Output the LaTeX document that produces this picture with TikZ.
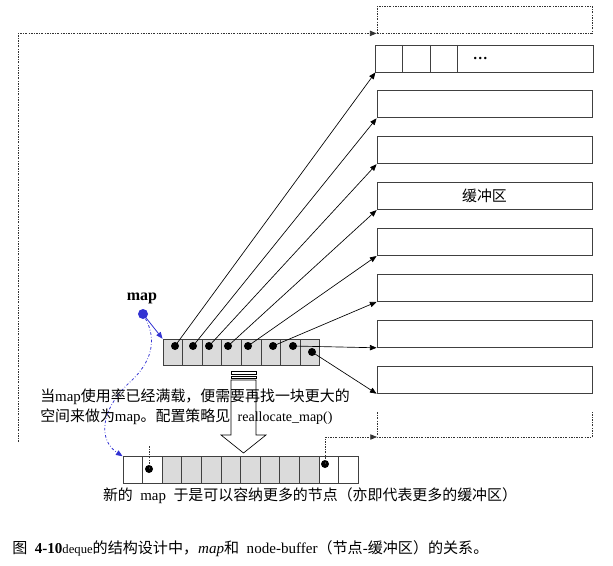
\documentclass[tikz,border=0pt]{standalone}
\usepackage{fontspec}
\setmainfont{Liberation Serif}
\newfontfamily\cjk{Noto Sans CJK SC}
\usepackage{tikz}
\usetikzlibrary{shapes,arrows.meta}
\newcommand{\zh}[1]{{\cjk #1}}
\definecolor{mapblue}{RGB}{51,51,210}
\tikzset{
  every picture/.style={font={\fontsize{11.2}{15}\selectfont}, >={Triangle[length=5pt,width=4pt]}},
  every node/.style={inner sep=0pt}}

\begin{document}
\begin{tikzpicture}[x=0.75pt, y=-0.75pt,
    buf/.style={
      draw=black!75, line width=0.6pt,
      minimum width=161.25pt,
      minimum height=20.25pt},
    cell/.style={draw=black!75, line width=0.6pt, minimum width=14.7pt, minimum height=20pt},
    full/.style={cell, fill=black!14},
    dot/.style={circle, fill=black, minimum size=6pt},
    ptr/.style={->, line width=0.5pt},
    dotline/.style={black!80, line width=0.6pt, dash pattern=on 1.5pt off 1pt on 0.5pt off 1pt},
    mapline/.style={->, mapblue, line width=0.6pt}]

    \useasboundingbox (0,0) rectangle (613,566);

    % buffers
    \node[buf, dotline] (b1) at (484.5,19.5) {};
    \node[buf, rectangle split, rectangle split horizontal, rectangle split parts=4] (b2) at (484.5,58.5)
    {
      \nodepart[text width=19.9pt]{one}
      \nodepart[text width=19.9pt]{two}
      \nodepart[text width=20.2pt]{three}
      \nodepart[text width=101.25pt]{four}\hspace*{11pt}\textbf{…}
    };
    \foreach \i in {3,4,6,7,8,9}
      \node[buf] (b\i) at (484.5,{58.5+45.9*(\i-2)}) {};
    \node[buf] (b5) at (484.5,{58.5+45.9*3}) {\zh{缓冲区}};
    \coordinate (b10) at (377,437);
    \draw[dotline] (b10) ++(0,-25) -- (b10) -- ++(215,0) -- ++(0,-25);

    % old map
    \foreach \i in {1,...,8}
      \node[full] (m\i) at ({163+19.6*(\i-0.5)},352.5) {};
    \foreach \x [count=\i] in {175,193,209,228,248,273,293}
      \node[dot] (p\i) at (\x,346) {};
    \node[dot] (p8) at (312,352) {};
    \foreach \i/\j in {1/2,2/3,3/4,4/5,5/6,6/7,7/8,8/9}
      \draw[ptr] (p\i.center) -- (b\j.south west);

    % new map
    \foreach \i in {1,2,11,12}
      \node[cell] (n\i) at ({123+19.6*(\i-0.5)},470) {};
    \foreach \i in {3,...,10}
      \node[full] (n\i) at ({123+19.6*(\i-0.5)},470) {};
    \node[dot] (q2) at (149,469) {};
    \node[dot] (q11) at (325,464) {};
    \draw[dotline] (q2.center) -- ++(0,-24);
    \draw[dotline, ->] (q11.center) |- (b10);
    \coordinate (lt) at (18,442);
    \draw[dotline, ->] (lt) |- (b1.south west);

    % map pointer
    \node[font=\fontsize{12}{14}\selectfont\bfseries] (maplbl) at (142,298) {map};
    \node[dot, fill=mapblue, minimum size=7.5pt] (mapdot) at (143,314) {};
    \draw[mapline] (mapdot) -- (m1.north west);
    \draw[mapline, dash pattern=on 2pt off 1.5pt on 0.5pt off 1.5pt]
      (mapdot) .. controls (157,340) and (152,362) .. (130,382)
      .. controls (100,410) and (98,440) .. (n1.north west);

    % striped arrow
    \draw[line width=0.5pt] (231,371) rectangle (256,374) (231,376) rectangle (256,378);
    \draw[line width=0.5pt] (231,380) -- (256,380) -- (256,435) -- (266,435)
      -- (243.5,453) -- (221,435) -- (231,435) -- cycle;

    % texts
    \node[anchor=west, align=left] (note) at (40,407)
      {\zh{当}map\zh{使用率已经满载，便需要再找一块更大的}\\
       \zh{空间来做为}map\zh{。配置策略见}\ \ {\fontsize{10.5}{15}\selectfont reallocate\_map()}};
    \node (newlbl) at (310,496)
      {\zh{新的}\ \ map\ \ \zh{于是可以容纳更多的节点（亦即代表更多的缓冲区）}};
    \node[anchor=west, font=\fontsize{11.3}{13}\selectfont] (cap) at (12,549)
      {\zh{图}\ \ \textbf{4-10}{\fontsize{9.5}{11}\selectfont deque}\zh{的结构设计中，}\textit{map}\zh{和}\ \ node-buffer\zh{（节点}-\zh{缓冲区）的关系。}};
\end{tikzpicture}
\end{document}
